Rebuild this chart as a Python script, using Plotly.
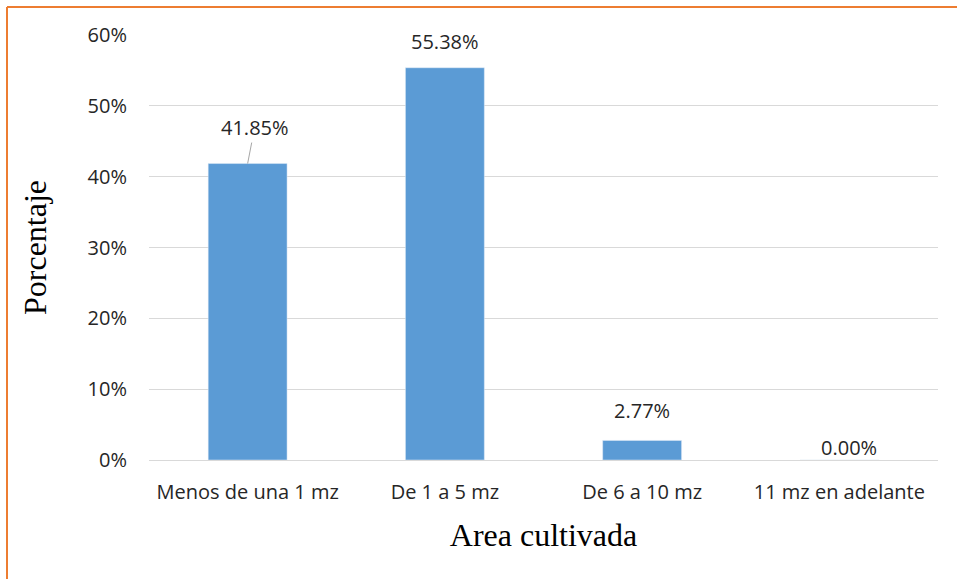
import plotly.graph_objects as go

categories = ["Menos de una 1 mz", "De 1 a 5 mz", "De 6 a 10 mz", "11 mz en adelante"]
values = [0.4185, 0.5538, 0.0277, 0.0]
labels = ["41.85%", "55.38%", "2.77%", "0.00%"]
tick_vals = [0, 0.1, 0.2, 0.3, 0.4, 0.5, 0.6]
tick_text = ["0%", "10%", "20%", "30%", "40%", "50%", "60%"]

# label styling offsets (pixels)
label_dx = [7, 0, 0, 10]
label_dy = [36, 26, 30, 13]
leader = [True, False, False, False]

fig = go.Figure(go.Bar(x=categories, y=values, marker_color="#5b9bd5", width=0.4))

font_tick = dict(family="Open Sans, Liberation Sans, sans-serif", size=20, color="#262626")
serif = "Liberation Serif, Times New Roman, serif"

for c, v, t, dx, dy, ld in zip(categories, values, labels, label_dx, label_dy, leader):
    if ld:
        fig.add_annotation(x=c, y=v, text=t, showarrow=True, arrowhead=0, arrowwidth=1,
                           arrowcolor="#a6a6a6", ax=dx, ay=-dy, font=font_tick, standoff=0)
    else:
        fig.add_annotation(x=c, y=v, text=t, showarrow=False, xshift=dx, yshift=dy,
                           yanchor="middle", font=font_tick)

W, H = 957, 579
l, r, t, b = 149, 19, 35, 119
pw, ph = W - l - r, H - t - b
def px(xp): return (xp - l) / pw
def py(yp): return (H - b - yp) / ph

fig.add_shape(type="line", xref="paper", yref="paper", x0=px(7), x1=px(960), y0=py(7), y1=py(7),
              line=dict(color="#ed7d31", width=2))
fig.add_shape(type="line", xref="paper", yref="paper", x0=px(7), x1=px(7), y0=py(7), y1=py(585),
              line=dict(color="#ed7d31", width=2))

fig.update_layout(
    width=W, height=H,
    margin=dict(l=l, r=r, t=t, b=b),
    plot_bgcolor="white", paper_bgcolor="white",
    showlegend=False,
    bargap=0.6,
)
fig.update_yaxes(range=[0, 0.6], tickvals=tick_vals, ticktext=tick_text, showgrid=True,
                 gridcolor="#d9d9d9", gridwidth=1, zeroline=False, tickfont=font_tick,
                 ticklabelstandoff=21,
                 title=dict(text="Porcentaje", font=dict(family=serif, size=32, color="black"), standoff=31))
fig.update_xaxes(showline=True, linecolor="#d9d9d9", linewidth=1, tickfont=font_tick,
                 ticklabelstandoff=14,
                 title=dict(text="Area cultivada", font=dict(family=serif, size=32, color="black"), standoff=19))

fig.write_html("out.html", config={"displayModeBar": False},
               post_script="document.body.style.margin='0';document.body.style.overflow='hidden';")
